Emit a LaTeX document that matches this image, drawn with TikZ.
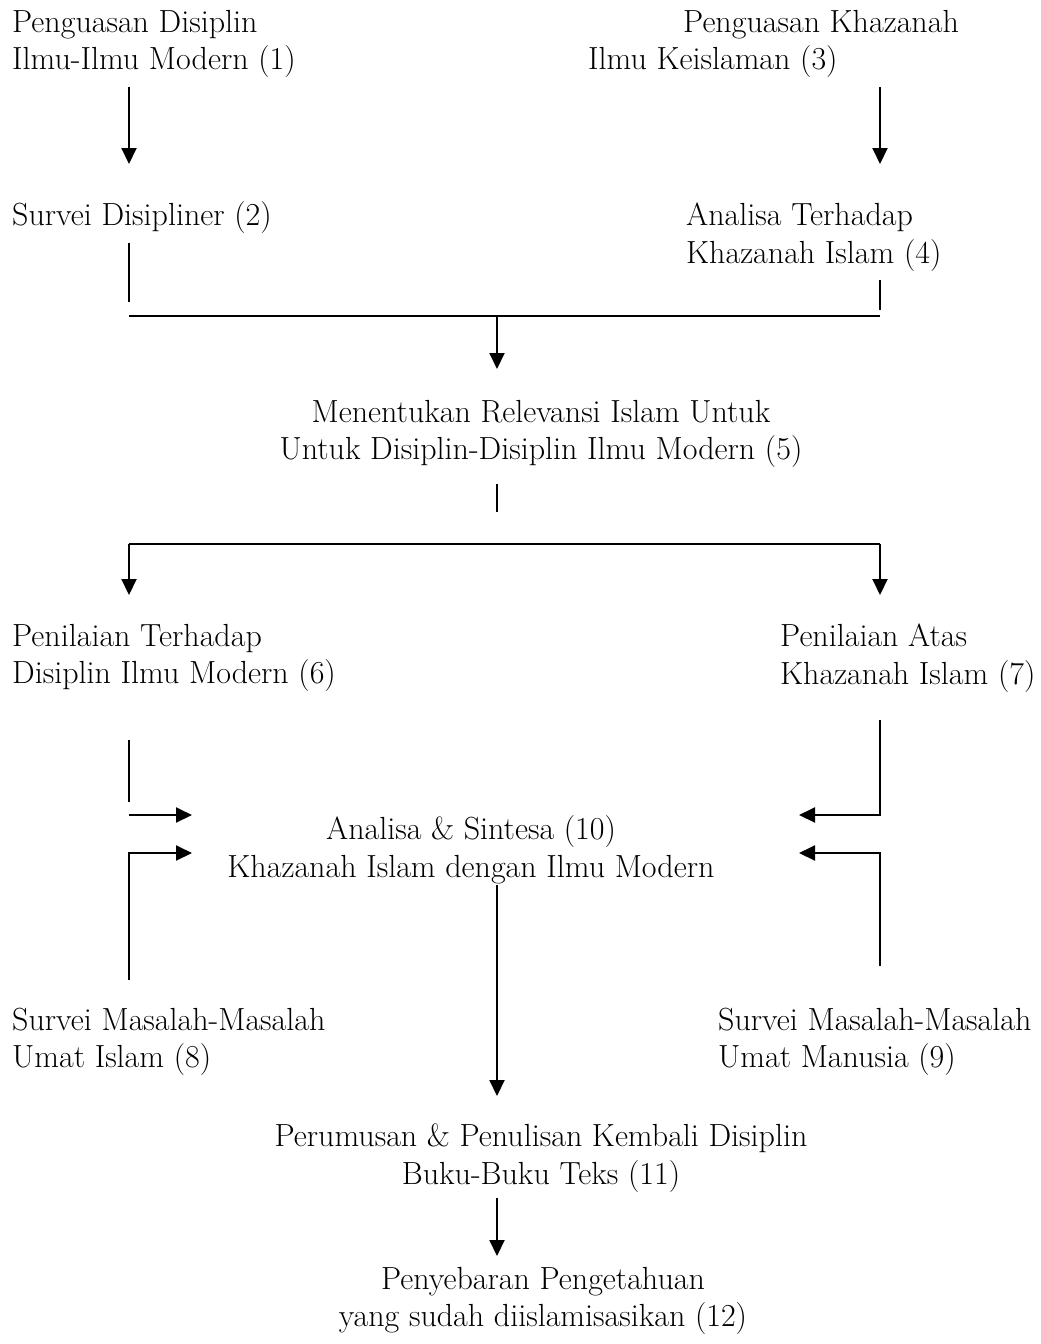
\documentclass[tikz,border=0pt]{standalone}
\usetikzlibrary{arrows.meta}
\begin{document}
\begin{tikzpicture}[x=1pt,y=-1pt,
  lbl/.style={inner sep=0pt, font=\fontsize{32}{37.5}\selectfont},
  ln/.style={line width=2pt},
  arr/.style={line width=2pt,-{Triangle[length=16pt,width=15pt]}}]
\useasboundingbox (0,0) rectangle (1041,1344);
% text blocks
\node[lbl,align=left,anchor=west] (n1) at (12,44) {Penguasan Disiplin\\Ilmu-Ilmu Modern (1)};
\node[lbl,align=left,anchor=west] (n3) at (588,44) {\hspace*{95pt}Penguasan Khazanah\\Ilmu Keislaman (3)};
\node[lbl,anchor=west] (n2) at (12,218) {Survei Disipliner (2)};
\node[lbl,align=left,anchor=west] (n4) at (686,237) {Analisa Terhadap\\Khazanah Islam (4)};
\node[lbl,align=center] (n5) at (541,434) {Menentukan Relevansi Islam Untuk\\Untuk Disiplin-Disiplin Ilmu Modern (5)};
\node[lbl,align=left,anchor=west] (n6) at (12,658) {Penilaian Terhadap\\Disiplin Ilmu Modern (6)};
\node[lbl,align=left,anchor=west] (n7) at (780,658) {Penilaian Atas\\Khazanah Islam (7)};
\node[lbl,align=center] (n10) at (471,850) {Analisa \& Sintesa (10)\\Khazanah Islam dengan Ilmu Modern};
\node[lbl,align=left,anchor=west] (n8) at (12,1042) {Survei Masalah-Masalah\\Umat Islam (8)};
\node[lbl,align=left,anchor=west] (n9) at (718,1042) {Survei Masalah-Masalah\\Umat Manusia (9)};
\node[lbl,align=center] (n11) at (541,1158) {Perumusan \& Penulisan Kembali Disiplin\\Buku-Buku Teks (11)};
\node[lbl,align=center] (n12) at (543,1301) {Penyebaran Pengetahuan\\yang sudah diislamisasikan (12)};
% coordinates
\coordinate (a1s) at (129,87);  \coordinate (a1e) at (129,164);
\coordinate (a3s) at (880,87);  \coordinate (a3e) at (880,164);
\coordinate (l2s) at (129,243); \coordinate (l2e) at (129,302);
\coordinate (l4s) at (880,280); \coordinate (l4e) at (880,310);
\coordinate (hL) at (129,316);  \coordinate (hR) at (880,316);
\coordinate (hM) at (497,316);  \coordinate (a5e) at (497,369);
\coordinate (l5s) at (497,484); \coordinate (l5e) at (497,512);
\coordinate (h2L) at (129,544); \coordinate (h2R) at (880,544);
\coordinate (a6e) at (129,595); \coordinate (a7e) at (880,595);
\coordinate (l6s) at (129,740); \coordinate (l6e) at (129,802);
\coordinate (a6s) at (129,815); \coordinate (a6t) at (192,815);
\coordinate (l8s) at (129,980); \coordinate (l8c) at (129,853); \coordinate (a8t) at (192,853);
\coordinate (l7s) at (880,720); \coordinate (l7c) at (880,815); \coordinate (a7t) at (799,815);
\coordinate (l9s) at (880,966); \coordinate (l9c) at (880,853); \coordinate (a9t) at (799,853);
\coordinate (a10s) at (497,885); \coordinate (a10e) at (497,1096);
\coordinate (a11s) at (497,1198); \coordinate (a11e) at (497,1256);
% connectors
\draw[arr] (a1s) -- (a1e);
\draw[arr] (a3s) -- (a3e);
\draw[ln] (l2s) -- (l2e);
\draw[ln] (l4s) -- (l4e);
\draw[ln] (hL) -- (hR);
\draw[arr] (hM) -- (a5e);
\draw[ln] (l5s) -- (l5e);
\draw[ln] (h2L) -- (h2R);
\draw[arr] (h2L) -- (a6e);
\draw[arr] (h2R) -- (a7e);
\draw[ln] (l6s) -- (l6e);
\draw[arr] (a6s) -- (a6t);
\draw[arr] (l8s) -- (l8c) -- (a8t);
\draw[arr] (l7s) -- (l7c) -- (a7t);
\draw[arr] (l9s) -- (l9c) -- (a9t);
\draw[arr] (a10s) -- (a10e);
\draw[arr] (a11s) -- (a11e);
\end{tikzpicture}
\end{document}
